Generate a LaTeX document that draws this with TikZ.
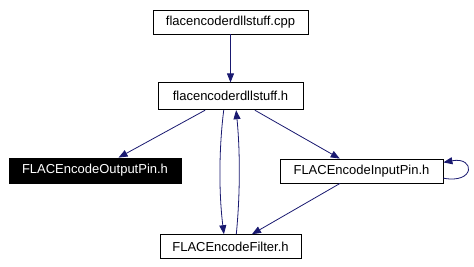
\documentclass[tikz,border=0pt]{standalone}
\usepackage{fontspec}
\setmainfont{Liberation Sans}
\usetikzlibrary{arrows.meta, positioning}

\definecolor{edgeblue}{RGB}{25,25,112}

\begin{document}
\begin{tikzpicture}[
    x=1pt, y=-1pt,
    box/.style={draw, align=center, font=\fontsize{13}{15}\selectfont,
                minimum height=24pt, inner sep=0pt, line width=0.8pt},
    dep/.style={->, draw=edgeblue, line width=0.8pt},
    >={Triangle[length=9pt,width=7pt,fill=edgeblue]}
  ]
    \useasboundingbox (0,0) rectangle (474,266);

    \node[box, minimum width=155pt] (cpp) at (230.5,22) {flacencoderdllstuff.cpp};
    \node[box, minimum width=145pt, minimum height=27pt, below=48pt of cpp] (hdr) {flacencoderdllstuff.h};
    \node[box, minimum width=141pt, below=124pt of hdr] (flt) {FLACEncodeFilter.h};
    \node[box, fill=black, text=white, minimum width=172pt, minimum height=25pt] (out) at (95,170.5) {FLACEncodeOutputPin.h};
    \node[box, minimum width=163pt] (in) at (361.5,171) {FLACEncodeInputPin.h};

    \draw[dep] (cpp) -- (hdr);
    \draw[dep] (hdr) -- (out);
    \draw[dep] (hdr) -- (in);
    \draw[dep] (hdr.-116) .. controls +(-5,40) and +(-5,-40) .. (flt.118);
    \draw[dep] (flt.65) .. controls +(4,-40) and +(4,40) .. (hdr.-68);
    \draw[dep] (in) -- (flt);
    \draw[dep] (in.-5) .. controls +(32,6) and +(32,-6) .. (in.6);
  \end{tikzpicture}
\end{document}
